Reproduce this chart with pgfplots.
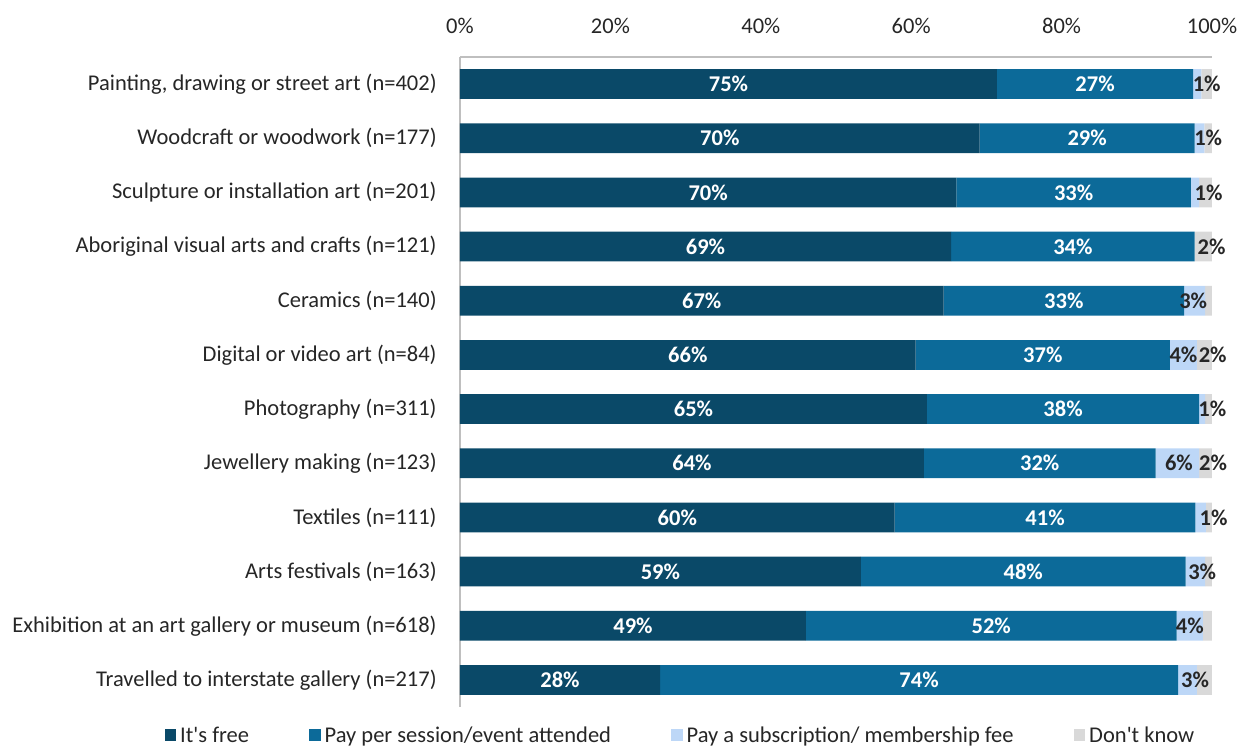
\documentclass[border=0pt]{standalone}
\usepackage{fontspec}
\setmainfont{Carlito}[Ligatures=TeXOff]
\usepackage{pgfplots}
\usepackage{pgfplotstable}
\pgfplotsset{compat=1.18}
\definecolor{cfree}{HTML}{0A4968}
\definecolor{csess}{HTML}{0C6A99}
\definecolor{csub}{HTML}{BDD7F7}
\definecolor{cdk}{HTML}{D9D9D9}
\definecolor{ctxt}{HTML}{262626}
\definecolor{caxis}{HTML}{BFBFBF}
\newcommand\fs{\fontsize{11.25}{13}\selectfont}

% widths are the drawn (normalised) segment lengths; l* are the printed labels
\pgfplotstableread{
row free sess sub dk  z  dl  dg  lfree lsess lsub ldk
0  71.4 26.1 1.1 1.4 0  0   0   75\% 27\% {}   1\%
1  69.1 28.6 1.3 1.0 0  0   0   70\% 29\% {}   1\%
2  66.0 31.2 1.1 1.7 0  0   0.4 70\% 33\% {}   1\%
3  65.3 32.4 0.0 2.3 0  0   1.1 69\% 34\% {}   2\%
4  64.3 32.0 2.8 0.9 0  -0.2 0  67\% 33\% 3\%  {}
5  60.6 33.8 3.6 2.0 0  0   1.1 66\% 37\% 4\%  2\%
6  62.1 36.2 0.8 0.9 0  0   0.5 65\% 38\% {}   1\%
7  61.7 30.8 5.8 1.7 0  0.2 1.0 64\% 32\% 6\%  2\%
8  57.8 40.0 1.4 0.8 0  0   0.6 60\% 41\% {}   1\%
9  53.3 43.2 2.6 0.9 0  0.9 0   59\% 48\% 3\%  {}
10 46.0 49.3 3.5 1.2 0  0   0   49\% 52\% 4\%  {}
11 26.6 68.9 2.5 2.0 0  1.0 0   28\% 74\% 3\%  {}
}\data

\newcommand\seg[5]{% width col, colour, label col, offset col, label colour
  \addplot[fill=#2, draw=none,
    nodes near coords,
    point meta=explicit symbolic,
    visualization depends on={\thisrow{#4} \as \segd},
    every node near coord/.append style={anchor=center, inner sep=0pt,
      text=#5, font=\bfseries\fs,
      shift={(axis direction cs:\segd,0)}}]
    table[x=#1, y=row, meta=#3] {\data};
}

\begin{document}
\begin{tikzpicture}
\begin{axis}[
  name=ax,
  scale only axis,
  width=376pt, height=325pt,
  xbar stacked,
  bar width=0.55,
  y dir=reverse,
  ymin=-0.5, ymax=11.5,
  xmin=0, xmax=100,
  axis x line*=top,
  axis y line*=left,
  axis line style={caxis, line width=0.6pt},
  major tick length=0pt,
  xtick={0,20,40,60,80,100},
  xticklabel={\pgfmathprintnumber{\tick}\%},
  /pgf/number format/assume math mode=true,
  xticklabel style={font=\fs, text=ctxt, inner sep=0pt, yshift=11.5pt},
  ytick={0,...,11},
  yticklabels={{Painting, drawing or street art (n=402)},
    {Woodcraft or woodwork (n=177)},
    {Sculpture or installation art (n=201)},
    {Aboriginal visual arts and crafts (n=121)},
    {Ceramics (n=140)},
    {Digital or video art (n=84)},
    {Photography (n=311)},
    {Jewellery making (n=123)},
    {Textiles (n=111)},
    {Arts festivals (n=163)},
    {Exhibition at an art gallery or museum (n=618)},
    {Travelled to interstate gallery (n=217)}},
  yticklabel style={font=\fs, text=ctxt, inner sep=0pt, xshift=-11.5pt},
  clip=false,
  legend columns=4,
  legend style={at={(axis description cs:0.2945,-0.0446)}, anchor=center,
    draw=none, fill=none, font=\fs, text=ctxt,
    /tikz/every even column/.append style={column sep=28pt}},
  legend image code/.code={\fill[#1] (0pt,-2.5pt) rectangle (5.8pt,3.3pt);},
]
\seg{free}{cfree}{lfree}{z}{white}
\addlegendentry{It's free}
\seg{sess}{csess}{lsess}{z}{white}
\addlegendentry{Pay per session/event attended}
\seg{sub}{csub}{lsub}{dl}{ctxt}
\addlegendentry{Pay a subscription/ membership fee}
\seg{dk}{cdk}{ldk}{dg}{ctxt}
\addlegendentry{Don't know}
\end{axis}
\pgfresetboundingbox
\path ([shift={(-230pt,-19.5pt)}]ax.south west) rectangle ([shift={(13.5pt,28.5pt)}]ax.north east);
\end{tikzpicture}
\end{document}
